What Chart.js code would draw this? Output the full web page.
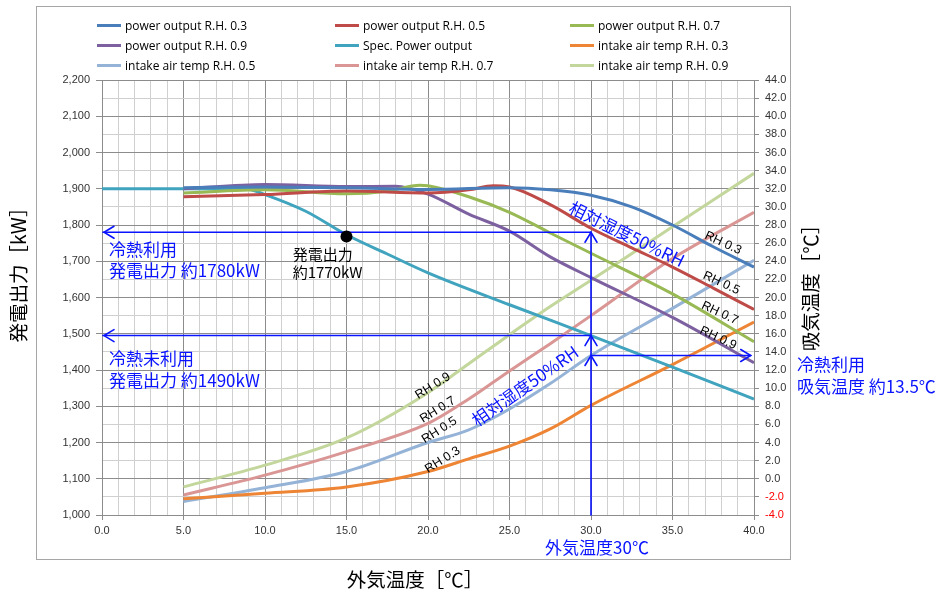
<!DOCTYPE html>
<html><head><meta charset="utf-8">
<script src="https://cdn.jsdelivr.net/npm/chart.js@4.4.0/dist/chart.umd.min.js"></script>
<style>
html,body{margin:0;padding:0;background:#fff;}
#wrap{position:relative;width:943px;height:598px;overflow:hidden;}
#legend{position:absolute;left:0;top:0;width:943px;height:80px;font:12px "Open Sans","Liberation Sans",Arial,sans-serif;color:#000;}
.li{position:absolute;display:flex;align-items:center;white-space:nowrap;height:16px;}
.sw{width:24px;height:3px;margin-right:4px;}
</style></head><body>
<div id="wrap"><canvas id="c" width="943" height="598"></canvas><div id="legend"></div></div>
<script>
// ---- data ----
const seriesNames = ['power output R.H. 0.3','power output R.H. 0.5','power output R.H. 0.7','power output R.H. 0.9','Spec. Power output','intake air temp R.H. 0.3','intake air temp R.H. 0.5','intake air temp R.H. 0.7','intake air temp R.H. 0.9'];

const xPow03 = [5,10,15,20,25,27.5,30,32.5,35,37.5,40];
const yPow03 = [1903,1905,1903,1898,1903,1897,1882,1850,1800,1740,1684];
const xPow05 = [5,10,15,20,22.5,24,25,27.5,30,32.5,35,37.5,40];
const yPow05 = [1878,1884,1894,1888,1897,1908,1905,1856,1791,1737,1684,1626,1567];
const xPow07 = [5,10,15,17.5,19.5,20,22.5,25,27.5,30,35,40];
const yPow07 = [1888,1897,1886,1893,1910,1908,1878,1835,1778,1722,1610,1478];
const xPow09 = [5,10,15,18,20,22.5,25,27.5,30,35,40];
const yPow09 = [1900,1912,1906,1907,1885,1830,1783,1712,1655,1545,1420];
const xSpec  = [0,5,9,10,12.5,15,17.5,20,25,30,35,40];
const ySpec  = [1900,1900,1898,1884,1838,1773,1720,1668,1580,1495,1408,1320];

const xTemp = [5,10,15,20,22.5,25,27.5,30,35,40];
const tAir03 = [-2.2,-1.6,-0.9,0.8,2.2,3.6,5.5,8.1,12.6,17.3];
const tAir05 = [-2.5,-1.0,0.8,4.0,5.4,7.7,10.5,13.6,18.8,24.1];
const tAir07 = [-1.8,0.4,3.0,6.1,8.8,11.9,14.9,18.0,24.3,29.4];
const tAir09 = [-0.9,1.5,4.5,9.5,12.7,15.9,19.0,21.9,27.8,33.7];

const colors = ['#4A7EBB','#BE4B48','#98B954','#7D60A0','#40A4BE','#EE8534','#95B3D7','#D99694','#C3D69B'];

// annotation values
const designOutdoor = [30];          // 外気温度 30℃
const coolPower = [1780];            // 冷熱利用 発電出力
const noCoolPower = [1495];          // 冷熱未利用 発電出力
const coolIntake = [13.6];           // 冷熱利用 吸気温度
const specPoint = [15, 1768];        // 発電出力 約1770kW

// ---- chart ----
const pts = (xs, ys) => xs.map((v,i)=>({x:v,y:ys[i]}));
const mk = (i, xs, ys, axis) => ({label:seriesNames[i], data:pts(xs,ys), borderColor:colors[i], backgroundColor:colors[i], yAxisID:axis});

const BLUE = '#0a14ff';
const JP = '"Noto Sans CJK JP", sans-serif';
const LAT = '"Liberation Sans", Arial, sans-serif';

function arrowHead(ctx, x, y, dir){
  const L=10, W=6;
  ctx.beginPath();
  if(dir==='left'){ ctx.moveTo(x+L,y-W); ctx.lineTo(x,y); ctx.lineTo(x+L,y+W); }
  if(dir==='right'){ ctx.moveTo(x-L,y-W); ctx.lineTo(x,y); ctx.lineTo(x-L,y+W); }
  if(dir==='up'){ ctx.moveTo(x-W,y+L); ctx.lineTo(x,y); ctx.lineTo(x+W,y+L); }
  ctx.stroke();
}
function seg(ctx,x1,y1,x2,y2){ ctx.beginPath(); ctx.moveTo(x1,y1); ctx.lineTo(x2,y2); ctx.stroke(); }
function txt(ctx,s,x,y,font,color,align,angle){
  ctx.save(); ctx.translate(x,y); if(angle) ctx.rotate(angle*Math.PI/180);
  ctx.font=font; ctx.fillStyle=color; ctx.textAlign=align||'left'; ctx.textBaseline='middle';
  ctx.fillText(s,0,0); ctx.restore();
}

const annot = {
  id:'annot',
  beforeDraw(chart){
    const c=chart.ctx; c.save(); c.fillStyle='#fff'; c.fillRect(0,0,chart.width,chart.height);
    c.strokeStyle='#a6a6a6'; c.lineWidth=1; c.strokeRect(36.5,6.5,754,553); c.restore();
  },
  afterDraw(chart){
    const {ctx, chartArea:ca} = chart;
    const ft='19.5px '+JP;
    txt(ctx,'発電出力［kW］',19,ca.top+190,ft,'#000','center',-90);
    txt(ctx,'吸気温度［℃］',ca.right+57,ca.top+203,ft,'#000','center',-90);
    txt(ctx,'外気温度［℃］',415,580,ft,'#000','center');
  },
  afterDatasetsDraw(chart){
    const {ctx, chartArea:ca, scales:{x,y,y2}} = chart;
    const X=v=>x.getPixelForValue(v), Y=v=>y.getPixelForValue(v), T=v=>y2.getPixelForValue(v);
    ctx.save();
    ctx.strokeStyle=BLUE; ctx.lineWidth=1.6; ctx.lineCap='round';
    const xd=X(designOutdoor[0]);
    seg(ctx,X(0)+1,Y(coolPower[0]),xd,Y(coolPower[0])); arrowHead(ctx,X(0)+2,Y(coolPower[0]),'left');
    seg(ctx,X(0)+1,Y(noCoolPower[0]),xd,Y(noCoolPower[0])); arrowHead(ctx,X(0)+2,Y(noCoolPower[0]),'left');
    seg(ctx,xd,ca.bottom,xd,Y(coolPower[0]));
    arrowHead(ctx,xd,Y(coolPower[0]),'up');
    arrowHead(ctx,xd,Y(noCoolPower[0]),'up');
    arrowHead(ctx,xd,T(coolIntake[0]),'up');
    seg(ctx,xd,T(coolIntake[0]),X(39.8),T(coolIntake[0])); arrowHead(ctx,X(39.8),T(coolIntake[0]),'right');
    ctx.fillStyle='#000'; ctx.beginPath(); ctx.arc(X(specPoint[0]),Y(specPoint[1]),6,0,Math.PI*2); ctx.fill();
    const fb='17px '+JP;
    txt(ctx,'冷熱利用',X(0)+7,Y(1731),fb,BLUE);
    txt(ctx,'発電出力 約1780kW',X(0)+7,Y(1673),fb,BLUE);
    txt(ctx,'冷熱未利用',X(0)+7,Y(1432),fb,BLUE);
    txt(ctx,'発電出力 約1490kW',X(0)+7,Y(1370),fb,BLUE);
    txt(ctx,'発電出力',X(11.7),Y(1720),'15px '+JP,'#000');
    txt(ctx,'約1770kW',X(11.7),Y(1669),'15px '+JP,'#000');
    txt(ctx,'外気温度30℃',xd+6,ca.bottom+33,fb,BLUE,'center');
    txt(ctx,'冷熱利用',ca.right+43,T(13.5)+8,fb,BLUE);
    txt(ctx,'吸気温度 約13.5℃',ca.right+43,T(13.5)+30,fb,BLUE);
    txt(ctx,'相対湿度50%RH',X(32.2),Y(1775),'17px '+JP,BLUE,'center',26);
    txt(ctx,'相対湿度50%RH',X(25.95),Y(1356),'17px '+JP,BLUE,'center',-35);
    const fr='12.5px '+LAT;
    txt(ctx,'RH 0.3',X(38.1),Y(1750),fr,'#000','center',25);
    txt(ctx,'RH 0.5',X(38.0),Y(1640),fr,'#000','center',25);
    txt(ctx,'RH 0.7',X(37.9),Y(1557),fr,'#000','center',25);
    txt(ctx,'RH 0.9',X(37.8),Y(1488),fr,'#000','center',25);
    txt(ctx,'RH 0.9',X(20.3),Y(1356),fr,'#000','center',-32);
    txt(ctx,'RH 0.7',X(20.6),Y(1290),fr,'#000','center',-32);
    txt(ctx,'RH 0.5',X(20.7),Y(1234),fr,'#000','center',-32);
    txt(ctx,'RH 0.3',X(20.9),Y(1152),fr,'#000','center',-32);
    ctx.restore();
  }
};

const MAJ='#8c8c8c', MIN='#d0d0d0';
const fmt = v => String(v).replace(/\B(?=(\d{3})+(?!\d))/g, ',');

const chart = new Chart(document.getElementById('c'), {
  type:'line',
  data:{ datasets:[
    mk(0,xPow03,yPow03,'y'), mk(1,xPow05,yPow05,'y'), mk(2,xPow07,yPow07,'y'), mk(3,xPow09,yPow09,'y'),
    mk(4,xSpec,ySpec,'y'),
    mk(5,xTemp,tAir03,'y2'), mk(6,xTemp,tAir05,'y2'), mk(7,xTemp,tAir07,'y2'), mk(8,xTemp,tAir09,'y2')
  ]},
  options:{
    responsive:false, devicePixelRatio:1, animation:false, events:[],
    layout:{padding:{left:8,right:121,top:80,bottom:5}},
    elements:{point:{radius:0}, line:{borderWidth:3, fill:false, cubicInterpolationMode:'monotone'}},
    plugins:{legend:{display:false}, tooltip:{enabled:false}},
    scales:{
      x:{type:'linear', min:0, max:40,
        ticks:{stepSize:1, autoSkip:false, maxRotation:0, minRotation:0, padding:4, color:'#333', font:{family:LAT,size:11},
          callback:v=> (v%5===0 ? v.toFixed(1) : '')},
        grid:{color:c=> (c.tick && c.tick.value%5===0 ? MAJ : MIN), tickLength:5,
          tickColor:c=> (c.tick && c.tick.value%5===0 ? MAJ : 'rgba(0,0,0,0)')},
        border:{color:MAJ},
        title:{display:false},
        afterFit:s=>{s.height=78;}
      },
      y:{type:'linear', position:'left', min:1000, max:2200,
        ticks:{stepSize:50, autoSkip:false, maxTicksLimit:100, padding:6, color:'#333', font:{family:LAT,size:11},
          callback:v=> (v%100===0 ? fmt(v) : '')},
        grid:{color:c=> (c.tick && c.tick.value%100===0 ? MAJ : MIN), tickLength:6,
          tickColor:c=> (c.tick && c.tick.value%100===0 ? MAJ : 'rgba(0,0,0,0)')},
        border:{color:MAJ},
        title:{display:false},
        afterFit:s=>{s.width=94;}
      },
      y2:{type:'linear', position:'right', min:-4, max:44,
        ticks:{stepSize:2, autoSkip:false, maxTicksLimit:100, padding:6, font:{family:LAT,size:11},
          color:c=> (c.tick && c.tick.value<0 ? '#ff0000' : '#333'),
          callback:v=> v.toFixed(1)},
        grid:{drawOnChartArea:false, tickLength:5, color:MAJ},
        border:{color:MAJ},
        title:{display:false},
        afterFit:s=>{s.width=68;}
      }
    }
  },
  plugins:[annot]
});

const colX=[97,335,570], rowY=[25,45,65];
const lg=document.getElementById('legend');
chart.data.datasets.forEach((ds,i)=>{
  const d=document.createElement('div'); d.className='li';
  d.style.left=colX[i%3]+'px'; d.style.top=(rowY[Math.floor(i/3)]-8)+'px';
  const s=document.createElement('span'); s.className='sw'; s.style.background=ds.borderColor;
  const t=document.createElement('span'); t.textContent=ds.label;
  d.appendChild(s); d.appendChild(t); lg.appendChild(d);
});
</script>
</body></html>
